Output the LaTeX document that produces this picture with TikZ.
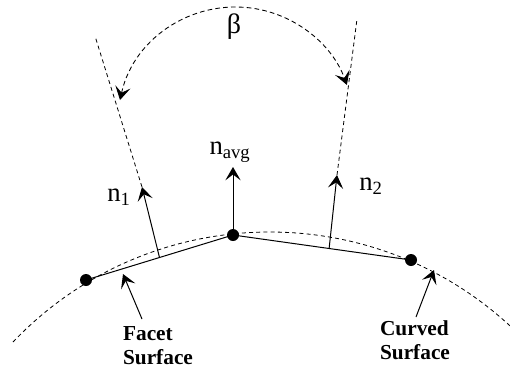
\documentclass[tikz,border=0pt]{standalone}
\usepackage{fontspec}
\setmainfont{Liberation Serif}
\usepackage{tikz}
\usetikzlibrary{arrows.meta,calc}
\tikzset{
  facet/.style={line width=0.75pt, draw=black},
  guide/.style={line width=0.6pt, dash pattern=on 3pt off 2.4pt},
  arrow/.style={->, line width=0.75pt},
  vertex/.style={circle, fill=black, inner sep=0pt, minimum size=9pt},
  normlab/.style={font=\fontsize{20}{24}\selectfont, inner sep=0pt},
  caption/.style={font=\fontsize{16}{18}\selectfont\bfseries, align=left, inner sep=0pt}
}

\begin{document}
\begin{tikzpicture}[x=0.75pt,y=-0.75pt,>={Stealth[length=10pt,width=11.5pt,inset=4.4pt]}]
  \useasboundingbox (0,0) rectangle (510,371);
  % curved surface
  \coordinate (surfL) at (13,342);
  \draw[guide] (surfL) arc[start angle=-136.4, end angle=-47.3, radius=354.5];
  % facets
  \node[vertex] (dotL) at (86,280) {};
  \node[vertex] (dotC) at (233,235) {};
  \node[vertex] (dotR) at (411,260) {};
  \draw[facet] (dotL.center) -- (dotC.center) -- (dotR.center);
  % normals
  \coordinate (n1foot) at ($(dotL.center)!0.5!(dotC.center)$);
  \coordinate (n1tip) at (142,187);
  \coordinate (n2foot) at ($(dotC.center)!0.54!(dotR.center)$);
  \coordinate (n2tip) at (337,175);
  \coordinate (avgtip) at (233,167);
  \draw[arrow] (n1foot) -- (n1tip);
  \draw[arrow] (n2foot) -- (n2tip);
  \draw[arrow] (dotC.center) -- (avgtip);
  \node[normlab] (n1lab) at (119,197) {n\textsubscript{1}};
  \node[normlab] (n2lab) at (371,186) {n\textsubscript{2}};
  \node[normlab] (avglab) at (230,152) {n\textsubscript{avg}};
  % extended normals and angle
  \coordinate (ext1) at (95,36);
  \coordinate (ext2) at (357,19);
  \draw[guide] (n1tip) -- (ext1);
  \draw[guide] (n2tip) -- (ext2);
  \coordinate (betaL) at (120,100);
  \draw[guide,<->,line width=0.65pt,dash pattern=on 3.5pt off 2.4pt]
    (betaL) arc[start angle=-167.6, end angle=-20, radius=118.4];
  \node[font=\fontsize{21}{24}\selectfont, inner sep=0pt] (betalab) at (234,27) {β};
  % captions
  \node[caption] (facetlab) at (158,346) {Facet\\Surface};
  \node[caption] (curvedlab) at (415,340) {Curved\\Surface};
  \coordinate (facettail) at (142,319);
  \coordinate (facetpt) at (123,274);
  \coordinate (curvedtail) at (416,317);
  \coordinate (curvedpt) at (434,270);
  \draw[arrow] (facettail) -- (facetpt);
  \draw[arrow] (curvedtail) -- (curvedpt);
\end{tikzpicture}
\end{document}
